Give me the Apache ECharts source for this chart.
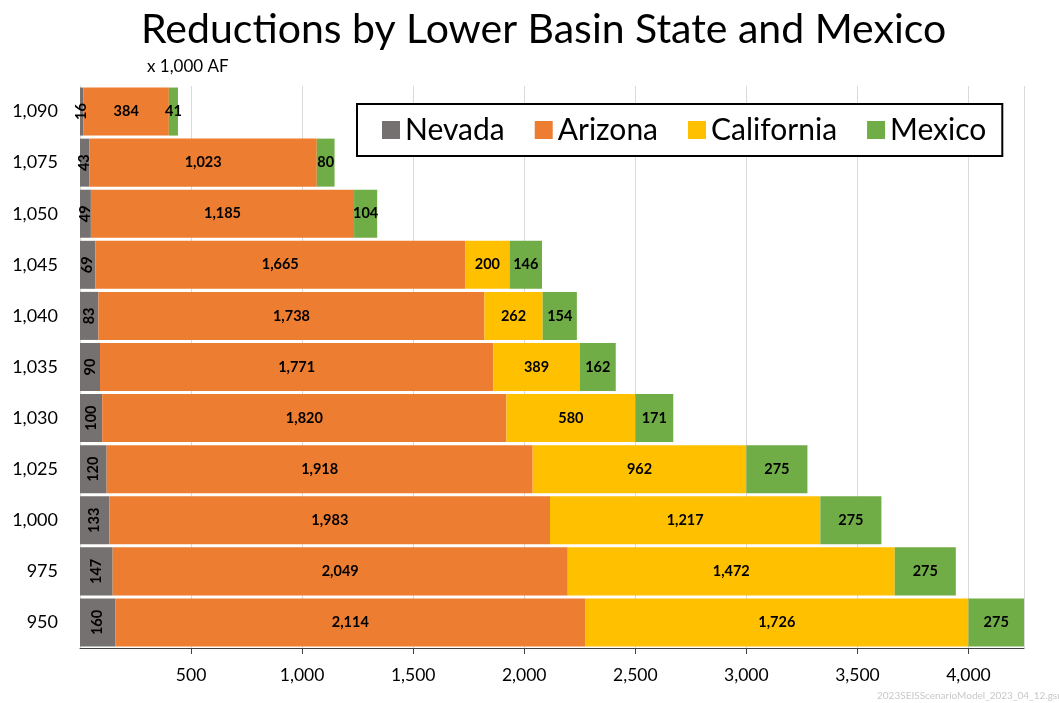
<!DOCTYPE html>
<html><head><meta charset="utf-8">
<script src="https://cdn.jsdelivr.net/npm/echarts@6/dist/echarts.min.js"></script>
<style>html,body{margin:0;padding:0;background:#fff}#c{width:1059px;height:703px}</style>
</head><body><div id="c"></div>
<script>
const categories = ['1,090','1,075','1,050','1,045','1,040','1,035','1,030','1,025','1,000','975','950'];
const nevada = [16,43,49,69,83,90,100,120,133,147,160];
const arizona = [384,1023,1185,1665,1738,1771,1820,1918,1983,2049,2114];
const california = [0,0,0,200,262,389,580,962,1217,1472,1726];
const mexico = [41,80,104,146,154,162,171,275,275,275,275];
const xTicks = [500,1000,1500,2000,2500,3000,3500,4000];

const FONT = 'Lato, "Open Sans", sans-serif';
const fmt = v => v.toLocaleString('en-US');
const chart = echarts.init(document.getElementById('c'));
function lbl(rot){
  return {show:true, position:'inside', rotate: rot||0, color:'#000', fontWeight:'bold', fontSize:14.5, fontFamily:FONT,
    formatter: p => p.value ? fmt(p.value) : ''};
}
function ser(name, data, color, rot){
  return {name, type:'bar', stack:'t', data, barCategoryGap:'6%', itemStyle:{color}, label:lbl(rot), clip:true};
}
chart.setOption({
  animation:false,
  textStyle:{fontFamily:FONT},
  title:[
    {text:'Reductions by Lower Basin State and Mexico', left:136, top:4, textStyle:{fontSize:41, fontWeight:'normal', color:'#000', fontFamily:FONT}},
    {text:'x 1,000 AF', left:142, top:53, textStyle:{fontSize:17, fontWeight:'normal', color:'#000', fontFamily:FONT}},
    {text:'2023SEISScenarioModel_2023_04_12.gsm', left:872, top:686, textStyle:{fontSize:10, fontWeight:'normal', color:'#c8c8c8', fontFamily:FONT}}
  ],
  legend:{left:357, top:104, backgroundColor:'#fff', borderColor:'#000', borderWidth:2,
    padding:[11,16,11,25], itemWidth:18, itemHeight:18, itemGap:30, icon:'rect',
    textStyle:{fontSize:30, color:'#000', fontFamily:FONT},
    data:['Nevada','Arizona','California','Mexico']},
  grid:{left:80, right:35, top:86, bottom:55},
  xAxis:{type:'value', min:0, max:4250, interval:500,
    axisLine:{show:true, lineStyle:{color:'#404040', width:1}},
    axisTick:{show:true, length:6, lineStyle:{color:'#404040'}},
    splitLine:{show:true, lineStyle:{color:'#d9d9d9'}},
    axisLabel:{showMinLabel:false, showMaxLabel:false, fontSize:17.5, color:'#000', margin:18, fontFamily:FONT,
      formatter: v => xTicks.includes(v) ? fmt(v) : ''}},
  yAxis:{type:'category', data:categories, inverse:true,
    axisLine:{show:true, lineStyle:{color:'#d9d9d9'}}, axisTick:{show:false},
    axisLabel:{fontSize:18, color:'#000', margin:22, fontFamily:FONT}},
  series:[
    ser('Nevada', nevada, '#767171', 90),
    ser('Arizona', arizona, '#ED7D31'),
    ser('California', california, '#FFC000'),
    ser('Mexico', mexico, '#70AD47')
  ]
});
</script></body></html>
